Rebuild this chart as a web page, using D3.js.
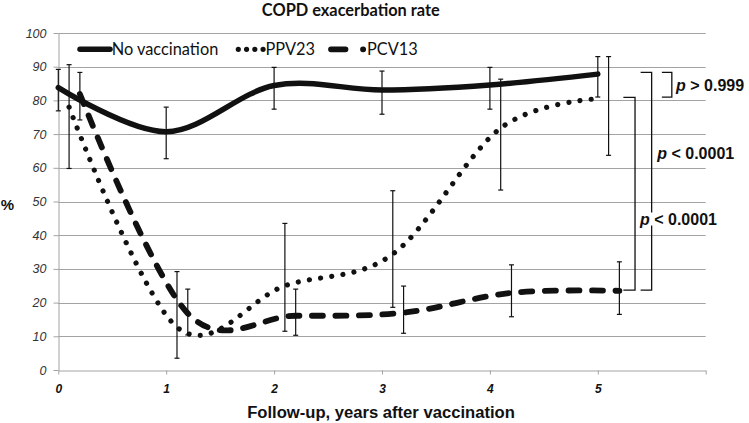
<!DOCTYPE html>
<html><head><meta charset="utf-8">
<script src="https://cdn.jsdelivr.net/npm/d3@7"></script>
<style>body{margin:0;background:#fff}</style>
</head><body><svg id="c" width="749" height="423"></svg>
<script>
// ---- data ----
const noVacX = [0, 1, 2, 3, 4, 5];
const noVac = [83.8, 70.7, 84.4, 83.1, 84.6, 87.8];
const noVacLow = [76.9, 62.7, 77.4, 75.9, 77.4, 81];
const noVacHigh = [89.2, 78, 89.8, 88.7, 89.8, 93];

const ppvX = [0.1, 1.1, 2.1, 3.1, 4.1, 5.0];
const ppv = [78, 12.7, 25, 34.4, 71.8, 80.5];
const ppvBarX = [0.1, 1.1, 2.1, 3.1, 4.1, 5.1];
const ppvLow = [59.8, 3.5, 11.5, 18.6, 53.4, 63.7];
const ppvHigh = [90.6, 29.2, 43.5, 53.2, 86.3, 93];

const pcvX = [0.2, 1.2, 2.2, 3.2, 4.2, 5.2];
const pcv = [81.9, 16.8, 16.1, 17, 22.9, 23.5];
const pcvLow = [74.2, 10.4, 10.3, 10.9, 15.8, 16.5];
const pcvHigh = [88.3, 24, 24, 24.9, 31.2, 32.1];

const yTicks = [0, 10, 20, 30, 40, 50, 60, 70, 80, 90, 100];
const xTicks = [0, 1, 2, 3, 4, 5, 6];
const xTickLabels = ["0", "1", "2", "3", "4", "5", ""];
const seriesNames = ["No vaccination", "PPV23", "PCV13"];
const title = "COPD exacerbation rate";
const xTitle = "Follow-up, years after vaccination";
const yTitle = "%";

// significance brackets (data units)
const bracketTop = [88.3, 88.3, 80.9];
const bracketBottom = [81, 23.7, 23.7];
const bracketX0 = [5.594, 5.397, 5.237];
const bracketX1 = [5.686, 5.499, 5.345];
const pSymbols = [">", "<", "<"];
const pValues = ["0.999", "0.0001", "0.0001"];
const pLabelX = [5.725, 5.551, 5.391];
const pLabelY = [84.7, 64.3, 44.8];

// ---- drawing ----
const svg = d3.select("#c");
const x = d3.scaleLinear().domain([0, 6]).range([58.3, 705.7]);
const y = d3.scaleLinear().domain([0, 100]).range([370, 33]);

function fit(sel, w) {
  const l = sel.node().getComputedTextLength();
  const fs = parseFloat(sel.style("font-size"));
  sel.style("font-size", (fs * w / l) + "px");
}

const grid = "#a3a3a3";
// gridlines
svg.append("g").selectAll("line").data(yTicks.filter(d => d > 0)).join("line")
  .attr("x1", x(0)).attr("x2", x(6))
  .attr("y1", d => Math.round(y(d)) + 0.5).attr("y2", d => Math.round(y(d)) + 0.5)
  .attr("stroke", grid).attr("stroke-width", 1);

// axes
const yAxis = svg.append("g").attr("transform", `translate(${Math.round(x(0)) + 0.5},0)`)
  .call(d3.axisLeft(y).tickValues(yTicks).tickSize(5).tickSizeOuter(0).tickPadding(7));
yAxis.selectAll("path,line").attr("stroke", grid);
yAxis.selectAll("text").attr("font-family", "Liberation Sans, Arial, sans-serif")
  .attr("font-style", "italic").attr("font-size", 12.5).attr("fill", "#333");

const xAxis = svg.append("g").attr("transform", `translate(0,${Math.round(y(0)) + 0.5})`)
  .call(d3.axisBottom(x).tickValues(xTicks).tickSize(4).tickSizeOuter(0).tickPadding(10)
    .tickFormat((d, i) => xTickLabels[i]));
xAxis.selectAll("path,line").attr("stroke", grid);
xAxis.selectAll("text").attr("font-family", "Liberation Sans, Arial, sans-serif")
  .attr("font-style", "italic").attr("font-weight", "bold").attr("font-size", 12).attr("fill", "#111");

// error bars
function errorBars(xs, lo, hi) {
  const g = svg.append("g").attr("stroke", "#111").attr("stroke-width", 1.2);
  xs.forEach((xv, i) => {
    const px = x(xv);
    g.append("line").attr("x1", px).attr("x2", px).attr("y1", y(lo[i])).attr("y2", y(hi[i]));
    g.append("line").attr("x1", px - 2.5).attr("x2", px + 2.5).attr("y1", y(lo[i])).attr("y2", y(lo[i]));
    g.append("line").attr("x1", px - 2.5).attr("x2", px + 2.5).attr("y1", y(hi[i])).attr("y2", y(hi[i]));
  });
}

// lines
const line = d3.line().x(d => x(d[0])).y(d => y(d[1])).curve(d3.curveCardinal.tension(0));
const styles = [
  { w: 5.5, dash: null },
  { w: 5.2, dash: "0.01 11.3" },
  { w: 5.8, dash: "11 12.5" }
];
const seriesData = [
  noVacX.map((v, i) => [v, noVac[i]]),
  ppvX.map((v, i) => [v, ppv[i]]),
  pcvX.map((v, i) => [v, pcv[i]])
];
seriesData.forEach((d, i) => {
  svg.append("path").attr("d", line(d)).attr("fill", "none").attr("stroke", "#111")
    .attr("stroke-width", styles[i].w).attr("stroke-linecap", "round").attr("stroke-linejoin", "round")
    .attr("stroke-dasharray", styles[i].dash);
});
errorBars(noVacX, noVacLow, noVacHigh);
errorBars(ppvBarX, ppvLow, ppvHigh);
errorBars(pcvX, pcvLow, pcvHigh);

// title
const t = svg.append("text").text(title).attr("x", 350.8).attr("y", 15.5).attr("text-anchor", "middle")
  .attr("font-family", "Lato, sans-serif").attr("font-weight", "bold").style("font-size", "15px").attr("fill", "#111");
fit(t, 178);

// axis titles
const xt = svg.append("text").text(xTitle).attr("x", 381).attr("y", 417.5).attr("text-anchor", "middle")
  .attr("font-family", "Liberation Sans, Arial, sans-serif").attr("font-weight", "bold").style("font-size", "16.5px").attr("fill", "#111");
fit(xt, 268);
svg.append("text").text(yTitle).attr("x", 7.5).attr("y", 210).attr("text-anchor", "middle")
  .attr("font-family", "Liberation Sans, Arial, sans-serif").attr("font-weight", "bold").attr("font-size", 15).attr("fill", "#111");

// legend
const legY = 49.3;
const legSamples = [[80, 110], [238.3, 263.2], [331, 363.2]];
const legTextX = [111.7, 265.5, 367];
const legendDash = [null, "0.01 8.25", "14.5 17.5"];
seriesNames.forEach((n, i) => {
  svg.append("line").attr("x1", legSamples[i][0]).attr("x2", legSamples[i][1]).attr("y1", legY).attr("y2", legY)
    .attr("stroke", "#111").attr("stroke-width", styles[i].w).attr("stroke-linecap", "round")
    .attr("stroke-dasharray", legendDash[i]);
});
const legTexts = seriesNames.map((n, i) => svg.append("text").text(n).attr("x", legTextX[i]).attr("y", 54.5)
  .attr("font-family", "Lato, sans-serif").style("font-size", "16px").attr("fill", "#111"));
fit(legTexts[0], 106.7);
const lfs = legTexts[0].style("font-size");
legTexts.forEach(s => s.style("font-size", lfs));

// brackets
const bg = svg.append("g").attr("fill", "none").attr("stroke", "#111").attr("stroke-width", 1.3);
bracketTop.forEach((tp, i) => {
  bg.append("path").attr("d", `M${x(bracketX0[i])},${y(tp)}H${x(bracketX1[i])}V${y(bracketBottom[i])}H${x(bracketX0[i])}`);
});
pValues.forEach((v, i) => {
  const tx = svg.append("text").attr("x", x(pLabelX[i])).attr("y", y(pLabelY[i]))
    .attr("dominant-baseline", "central")
    .attr("font-family", "Liberation Sans, Arial, sans-serif").attr("font-weight", "bold").attr("font-size", 16).attr("fill", "#111");
  tx.append("tspan").attr("font-style", "italic").text("p");
  tx.append("tspan").text(" " + pSymbols[i] + " " + v);
  const bb = tx.node().getBBox();
  svg.insert("rect", () => tx.node()).attr("x", bb.x - 1).attr("y", bb.y + 2).attr("width", bb.width + 2).attr("height", bb.height - 4).attr("fill", "#fff");
});
</script>
</body></html>
